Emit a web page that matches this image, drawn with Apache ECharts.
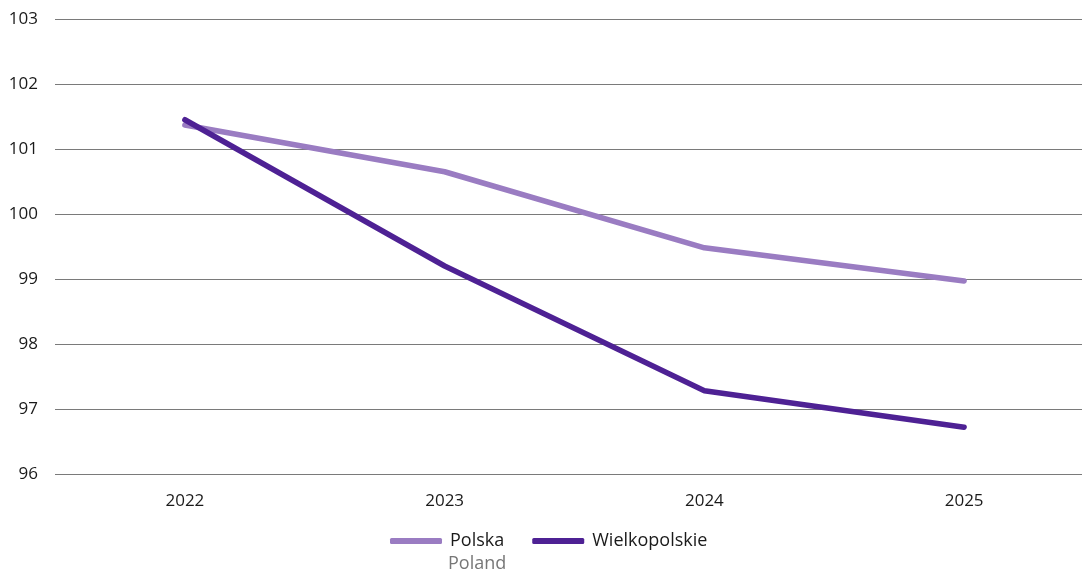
<!DOCTYPE html>
<html><head><meta charset="utf-8">
<script src="https://cdn.jsdelivr.net/npm/echarts@6/dist/echarts.min.js"></script>
<style>html,body{margin:0;padding:0;background:#fff}#c{width:1082px;height:573px}</style>
</head><body><div id="c"></div>
<script>
const categories = ['2022', '2023', '2024', '2025'];
const polska = [101.37, 100.65, 99.48, 98.97];
const wielkopolskie = [101.45, 99.2, 97.28, 96.72];
const seriesNames = ['Polska', 'Wielkopolskie'];
const subLabel = 'Poland';

const font = '"Open Sans", "Noto Sans", sans-serif';
const chart = echarts.init(document.getElementById('c'), null, {renderer: 'canvas'});
chart.setOption({
  backgroundColor: '#fff',
  animation: false,
  grid: {left: 55, top: 19, width: 1039, height: 455, outerBoundsMode: 'none', containLabel: false},
  xAxis: {
    type: 'category', data: categories, boundaryGap: true,
    axisLine: {show: false}, axisTick: {show: false},
    axisLabel: {color: '#1a1a1a', fontSize: 17, fontFamily: font, margin: 19}
  },
  yAxis: {
    type: 'value', min: 96, max: 103, interval: 1,
    axisLine: {show: false}, axisTick: {show: false},
    axisLabel: {color: '#1a1a1a', fontSize: 17, fontFamily: font, margin: 17},
    splitLine: {lineStyle: {color: '#7a7a7a', width: 1}}
  },
  legend: {
    data: seriesNames, left: 385, top: 527, itemWidth: 52, itemHeight: 6, itemGap: 28,
    icon: 'roundRect',
    textStyle: {color: '#1a1a1a', fontSize: 18, fontFamily: font, padding: [0, 0, 0, 3]}
  },
  graphic: [{
    type: 'text', left: 448, top: 555,
    style: {text: subLabel, fill: '#777', fontSize: 18, fontFamily: font}
  }],
  series: [
    {name: seriesNames[0], type: 'line', data: polska, symbol: 'none',
     itemStyle: {color: '#9a7cc2'}, lineStyle: {color: '#9a7cc2', width: 5.5, cap: 'round'}},
    {name: seriesNames[1], type: 'line', data: wielkopolskie, symbol: 'none',
     itemStyle: {color: '#4e2194'}, lineStyle: {color: '#4e2194', width: 5.5, cap: 'round'}}
  ]
});
</script></body></html>
